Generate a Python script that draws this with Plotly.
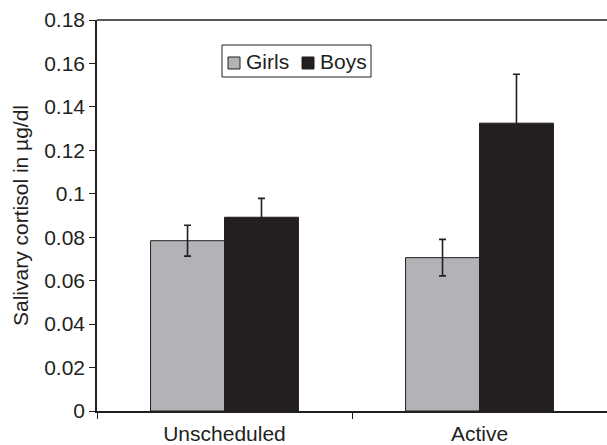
import plotly.graph_objects as go

categories = ["Unscheduled", "Active"]
girls = [0.0784, 0.0706]
girls_err = [0.0071, 0.0084]
boys = [0.0892, 0.1325]
boys_err = [0.0087, 0.0225]
y_ticks = [0, 0.02, 0.04, 0.06, 0.08, 0.1, 0.12, 0.14, 0.16, 0.18]
y_tick_text = ["0", "0.02", "0.04", "0.06", "0.08", "0.1", "0.12", "0.14", "0.16", "0.18"]
series_names = ["Girls", "Boys"]
series_colors = ["#b1b3b6", "#231f20"]

dark = "#231f20"
FONT = "Liberation Sans, Arial, sans-serif"
FS = 21

fig = go.Figure()
for name, vals, errs, col in zip(series_names, [girls, boys], [girls_err, boys_err], series_colors):
    fig.add_trace(go.Bar(
        name=name, x=categories, y=vals,
        marker=dict(color=col, line=dict(color=dark, width=1)),
        error_y=dict(type="data", array=errs, color=dark, thickness=1.6, width=3.5),
        showlegend=False,
    ))

# top frame line
shapes = [dict(type="line", xref="paper", yref="paper", x0=0, x1=1, y0=1, y1=1,
               line=dict(color=dark, width=1.5))]
# custom legend (box, swatches, labels) in paper coordinates
shapes.append(dict(type="rect", xref="paper", yref="paper", x0=0.2451, x1=0.5373, y0=0.8542, y1=0.9361,
                   line=dict(color=dark, width=1), fillcolor="white", layer="above"))
annotations = []
sw_x = [0.2569, 0.4020]
tx_x = [0.2882, 0.4333]
for i, (name, col) in enumerate(zip(series_names, series_colors)):
    shapes.append(dict(type="rect", xref="paper", yref="paper", x0=sw_x[i], x1=sw_x[i] + 0.0235,
                       y0=0.8747, y1=0.9054, line=dict(color=dark, width=1), fillcolor=col, layer="above"))
    annotations.append(dict(xref="paper", yref="paper", x=tx_x[i], y=0.8926, xanchor="left", yanchor="middle",
                            text=name, showarrow=False, font=dict(size=FS, color=dark, family=FONT)))

fig.update_layout(
    width=607, height=445,
    margin=dict(l=97, r=0, t=20, b=34),
    paper_bgcolor="white", plot_bgcolor="white",
    barmode="group", bargap=0.42, bargroupgap=0,
    font=dict(family=FONT, size=FS, color=dark),
    showlegend=False,
    shapes=shapes, annotations=annotations,
)
fig.update_xaxes(
    showline=True, linecolor=dark, linewidth=1.5, mirror=False,
    ticks="outside", tickson="boundaries", ticklen=6, tickcolor=dark,
    showgrid=False, tickfont=dict(size=FS), ticklabelstandoff=3,
)
fig.update_yaxes(
    range=[0, 0.18], tickvals=y_ticks, ticktext=y_tick_text,
    showline=True, linecolor=dark, linewidth=1.5,
    ticks="outside", ticklen=6, tickcolor=dark, showgrid=False, zeroline=False,
    tickfont=dict(size=FS),
    title=dict(text="Salivary cortisol in µg/dl", font=dict(size=FS), standoff=10),
)
fig.write_html("out.html", config={"displayModeBar": False},
               post_script="document.body.style.margin='0';document.body.style.overflow='hidden';")
